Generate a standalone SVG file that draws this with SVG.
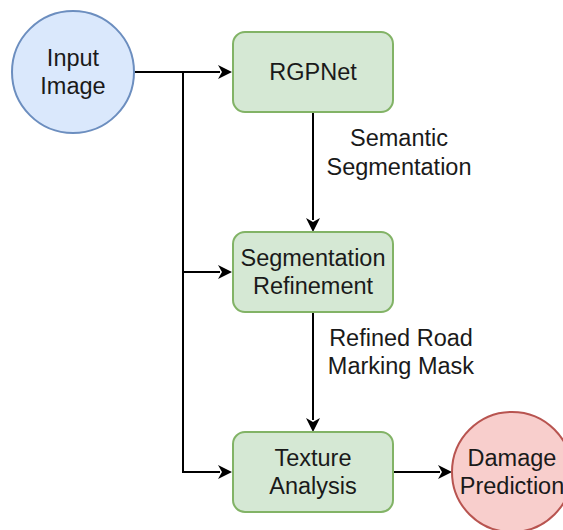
<svg xmlns="http://www.w3.org/2000/svg" width="563" height="530" viewBox="0 0 563 530">
<style>
text{font-family:"Liberation Sans",Arial,sans-serif;font-size:23.5px;fill:#1a1a1a;text-anchor:middle}
.blue{fill:#dae8fc;stroke:#6c8ebf;stroke-width:2}
.green{fill:#d5e8d4;stroke:#82b366;stroke-width:2}
.red{fill:#f8cecc;stroke:#b85450;stroke-width:2}
.edge{fill:none;stroke:#000;stroke-width:2}
.head{fill:#000}
</style>
<rect width="563" height="530" fill="#fff"/>
<g id="connectors">
<path class="edge" d="M134,72 H220"/>
<path class="head" d="M232,72 l-14,-7 l4,7 l-4,7 z"/>
<path class="edge" d="M183,72 V472 H220"/>
<path class="head" d="M232,472 l-14,-7 l4,7 l-4,7 z"/>
<path class="edge" d="M183,272 H220"/>
<path class="head" d="M232,272 l-14,-7 l4,7 l-4,7 z"/>
<path class="edge" d="M313,112 V220"/>
<path class="head" d="M313,232 l-7,-14 l7,4 l7,-4 z"/>
<path class="edge" d="M313,312 V420"/>
<path class="head" d="M313,432 l-7,-14 l7,4 l7,-4 z"/>
<path class="edge" d="M393,472 H440"/>
<path class="head" d="M452,472 l-14,-7 l4,7 l-4,7 z"/>
<text x="399" y="146">Semantic</text>
<text x="399" y="175">Segmentation</text>
<text x="401" y="346">Refined Road</text>
<text x="401" y="374">Marking Mask</text>
</g>
<g id="input">
<circle class="blue" cx="73" cy="72" r="61"/>
<text x="73" y="66">Input</text>
<text x="73" y="94">Image</text>
</g>
<g id="rgpnet">
<rect class="green" x="233" y="32" width="160" height="80" rx="12"/>
<text x="313" y="80">RGPNet</text>
</g>
<g id="refine">
<rect class="green" x="233" y="232" width="160" height="80" rx="12"/>
<text x="313" y="266">Segmentation</text>
<text x="313" y="294">Refinement</text>
</g>
<g id="texture">
<rect class="green" x="233" y="432" width="160" height="80" rx="12"/>
<text x="313" y="466">Texture</text>
<text x="313" y="494">Analysis</text>
</g>
<g id="damage">
<circle class="red" cx="512" cy="472" r="60"/>
<text x="512" y="466">Damage</text>
<text x="512" y="494">Prediction</text>
</g>
</svg>
